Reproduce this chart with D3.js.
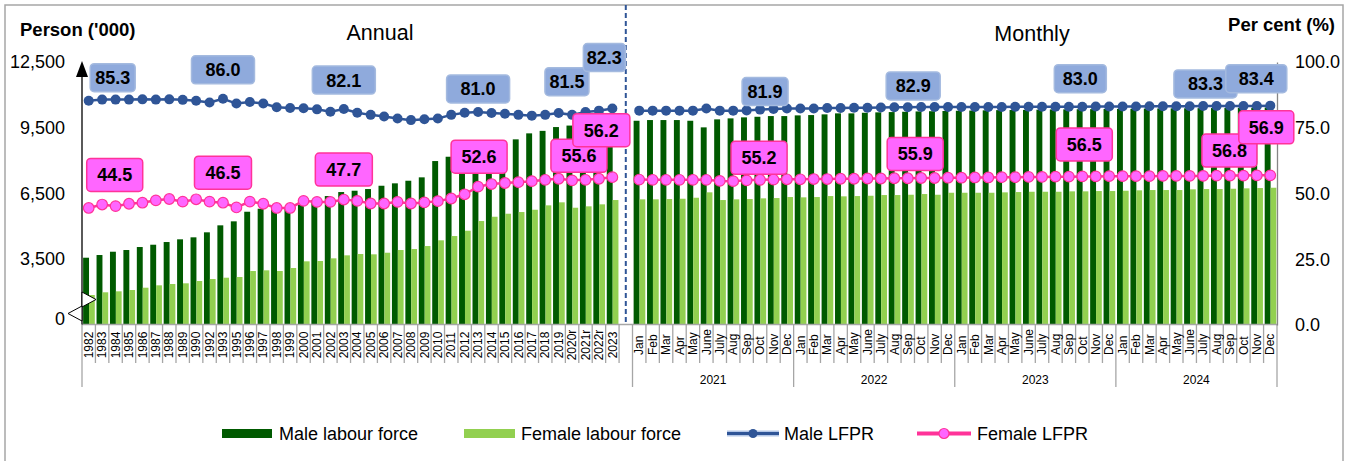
<!DOCTYPE html>
<html>
<head>
<meta charset="utf-8">
<style>
  body { margin: 0; background: #fff; }
  svg text { font-family: Arial, "Liberation Sans", sans-serif; }
</style>
</head>
<body>
<div id="chart"></div>
<script src="https://d3js.org/d3.v7.min.js"></script>
<script>
// ---- data: labour force in person ('000), LFPR in per cent ----
const annualYears = ["1982","1983","1984","1985","1986","1987","1988","1989","1990","1992",
  "1993","1995","1996","1997","1998","1999","2000","2001","2002","2003",
  "2004","2005","2006","2007","2008","2009","2010","2011","2012","2013",
  "2014","2015","2016","2017","2018","2019","2020r","2021r","2022r","2023"];
const annualMaleLF = [3553,3676,3827,3905,4042,4147,4270,4394,4485,4714,
  5033,5216,5655,5792,5790,5850,5961,6190,6372,6555,
  6615,6692,6843,6953,7072,7227,7972,8169,8338,8566,
  8703,8840,8964,9238,9352,9526,9594,9700,9850,10000];
const annualFemaleLF = [1848,1972,2017,2077,2182,2291,2351,2383,2488,2579,
  2639,2671,2945,2977,2945,3082,3388,3402,3525,3662,
  3722,3708,3781,3905,3950,4087,4348,4544,4787,5230,
  5426,5564,5641,5746,5947,6085,5838,5902,5993,6190];
const annualMaleLFPR = [85.3,85.7,85.7,85.7,85.8,85.7,85.8,85.6,85.3,84.6,
  86.0,84.2,84.8,84.2,82.8,82.5,82.4,82.0,81.1,82.1,
  80.7,79.9,79.3,78.5,77.9,78.2,78.5,79.9,80.7,81.0,
  80.6,80.3,79.9,79.6,79.9,80.6,79.9,81.0,81.5,82.3];
const annualFemaleLFPR = [44.5,45.8,45.2,46.1,46.5,47.4,47.9,46.9,47.8,46.9,
  46.5,44.7,46.9,46.1,44.5,44.5,47.2,46.8,46.8,47.7,
  47.2,46.2,46.2,46.8,46.2,46.6,47.1,48.1,49.7,52.6,
  53.6,54.0,54.3,54.7,55.2,55.6,55.0,55.2,55.6,56.2];

const months = ["Jan","Feb","Mar","Apr","May","June","July","Aug","Sep","Oct","Nov","Dec"];
const monthYears = ["2021","2022","2023","2024"];
const monthlyMaleLF = [9814,9846,9846,9846,9814,9512,9878,9923,9969,9996,10028,10028,
  10060,10074,10106,10152,10152,10179,10198,10211,10225,10240,10250,10260,
  10270,10280,10290,10300,10305,10310,10320,10330,10335,10340,10345,10350,
  10355,10360,10370,10375,10380,10385,10390,10395,10400,10405,10410,10420];
const monthlyFemaleLF = [6222,6222,6235,6249,6295,6542,6190,6222,6235,6267,6281,6327,
  6313,6327,6372,6359,6372,6386,6418,6418,6432,6464,6432,6523,
  6523,6523,6523,6541,6555,6569,6569,6569,6587,6587,6601,6601,
  6615,6633,6647,6647,6647,6679,6692,6692,6706,6724,6738,6752];
const monthlyMaleLFPR = [81.5,81.5,81.5,81.5,81.5,82.3,81.5,81.5,81.6,81.9,82.1,82.3,
  82.3,82.3,82.5,82.5,82.6,82.6,82.7,82.8,82.8,82.9,82.9,82.9,
  82.9,82.9,82.9,82.9,83.0,83.0,83.0,83.0,83.0,83.0,83.1,83.1,
  83.1,83.1,83.2,83.2,83.2,83.2,83.3,83.3,83.3,83.3,83.3,83.4];
const monthlyFemaleLFPR = [55.3,55.2,55.2,55.2,55.2,55.2,54.8,54.7,55.0,55.2,55.3,55.4,
  55.4,55.5,55.5,55.6,55.6,55.7,55.7,55.8,55.8,55.9,55.9,56.0,
  56.0,56.1,56.1,56.2,56.2,56.3,56.3,56.4,56.4,56.5,56.5,56.6,
  56.6,56.6,56.6,56.7,56.7,56.7,56.7,56.8,56.8,56.8,56.9,56.9];

// left axis is broken: the bottom tick (500) is shown as 0
const leftTicks = [500, 3500, 6500, 9500, 12500];
const leftTickLabels = ["0", "3,500", "6,500", "9,500", "12,500"];
const rightTicks = [0, 25, 50, 75, 100];

// which points carry a value box
const maleLabelKeys = ["1982","1993","2003","2013","2022r","2023","2021-Oct","2022-Oct","2023-Oct","2024-Oct","2024-Dec"];
const femaleLabelKeys = maleLabelKeys;

// ---- layout ----
const width = 1354, height = 461;
const plotL = 82, plotR = 1277, plotT = 62, base = 324.5;
const colMale = "#005a00", colFemale = "#92d050";
const colMaleLine = "#2f5597", colFemaleLine = "#ff3399", colFemaleDot = "#ff66ff";
const colMaleBox = "#8faadc";

const monthKeys = monthYears.flatMap(y => months.map(m => y + "-" + m));
const cats = annualYears.concat(["gap"], monthKeys);

const x = d3.scaleBand().domain(cats).range([plotL, plotR]);
const bw = x.bandwidth();
const cx = k => x(k) + bw / 2;
const yL = d3.scaleLinear().domain([500, 12500]).range([base, plotT]);
const yR = d3.scaleLinear().domain([0, 100]).range([325, plotT]);

const rows = annualYears.map((k, i) => ({key: k, male: annualMaleLF[i], female: annualFemaleLF[i]}))
  .concat(monthKeys.map((k, i) => ({key: k, male: monthlyMaleLF[i], female: monthlyFemaleLF[i]})));

const maleAnnual = annualYears.map((k, i) => ({key: k, v: annualMaleLFPR[i]}));
const maleMonthly = monthKeys.map((k, i) => ({key: k, v: monthlyMaleLFPR[i]}));
const femaleAnnual = annualYears.map((k, i) => ({key: k, v: annualFemaleLFPR[i]}));
const femaleMonthly = monthKeys.map((k, i) => ({key: k, v: monthlyFemaleLFPR[i]}));
const maleLookup = new Map(maleAnnual.concat(maleMonthly).map(d => [d.key, d.v]));
const femaleLookup = new Map(femaleAnnual.concat(femaleMonthly).map(d => [d.key, d.v]));

// box offsets from their point (dx, dy, box width)
const maleBoxPos = [[24,-23,45],[0,-29,63],[0,-29,63],[0,-23,63],[-32,-29,44],[-8,-51,42],
  [5,-18,46],[-8,-21,54],[-2,-28,52],[-38,-22,63],[-14,-27,61]];
const femaleBoxPos = [[26,-33,56],[0,-30,57],[0,-30,57],[1,-30,56],[-20,-23,56],[-11,-47,57],
  [-1,-22,56],[-6,-24,56],[2,-32,56],[-14,-25,55],[-4,-48,55]];

const svg = d3.select("#chart").append("svg")
  .attr("width", width)
  .attr("height", height);

svg.append("rect")
  .attr("x", 5).attr("y", 5).attr("width", 1338).attr("height", 470)
  .attr("fill", "#fff").attr("stroke", "#a6a6a6").attr("stroke-width", 1.5);

// titles
svg.append("text").attr("x", 20).attr("y", 36)
  .style("font-size", "18.5px").style("font-weight", "bold").text("Person ('000)");
svg.append("text").attr("x", 1335).attr("y", 31).attr("text-anchor", "end")
  .style("font-size", "18.5px").style("font-weight", "bold").text("Per cent (%)");
svg.append("text").attr("x", 380).attr("y", 40).attr("text-anchor", "middle")
  .style("font-size", "21.5px").text("Annual");
svg.append("text").attr("x", 1032).attr("y", 41).attr("text-anchor", "middle")
  .style("font-size", "21.5px").text("Monthly");

// bars
const barG = svg.append("g");
barG.selectAll(".male").data(rows).enter().append("rect")
  .attr("x", d => x(d.key) + bw * 0.083)
  .attr("width", bw * 0.44)
  .attr("y", d => yL(d.male))
  .attr("height", d => base - yL(d.male))
  .attr("fill", colMale);
barG.selectAll(".female").data(rows).enter().append("rect")
  .attr("x", d => x(d.key) + bw * 0.523)
  .attr("width", bw * 0.43)
  .attr("y", d => yL(d.female))
  .attr("height", d => base - yL(d.female))
  .attr("fill", colFemale);

// dashed divider between annual and monthly
svg.append("line")
  .attr("x1", cx("gap")).attr("x2", cx("gap"))
  .attr("y1", 5).attr("y2", base)
  .attr("stroke", colMaleLine).attr("stroke-width", 2).attr("stroke-dasharray", "5,3");

// category axis
svg.append("line").attr("x1", plotL).attr("x2", plotR).attr("y1", base).attr("y2", base)
  .attr("stroke", "#a6a6a6").attr("stroke-width", 1.3);

const longSeps = [plotL, plotR].concat(monthYears.map(y => x(y + "-Jan")));
const shortSeps = cats.map(k => x(k)).filter(v => !longSeps.some(l => Math.abs(l - v) < 0.5));
svg.append("g").selectAll("line").data(shortSeps).enter().append("line")
  .attr("x1", d => d).attr("x2", d => d).attr("y1", base).attr("y2", 363)
  .attr("stroke", "#a6a6a6").attr("stroke-width", 1.3);
svg.append("g").selectAll("line").data(longSeps).enter().append("line")
  .attr("x1", d => d).attr("x2", d => d).attr("y1", base).attr("y2", 387)
  .attr("stroke", "#a6a6a6").attr("stroke-width", 1.3);

svg.append("g").selectAll("text").data(annualYears).enter().append("text")
  .attr("transform", d => "translate(" + cx(d) + ",345) rotate(-90)")
  .attr("text-anchor", "middle").attr("dy", "0.35em")
  .style("font-size", "12px").text(d => d);
svg.append("g").selectAll("text").data(monthKeys).enter().append("text")
  .attr("transform", d => "translate(" + cx(d) + ",355) rotate(-90)")
  .attr("text-anchor", "start").attr("dy", "0.35em")
  .style("font-size", "12px").text(d => d.split("-")[1]);
svg.append("g").selectAll("text").data(monthYears).enter().append("text")
  .attr("x", d => (x(d + "-Jan") + x(d + "-Dec") + bw) / 2)
  .attr("y", 383.5).attr("text-anchor", "middle")
  .style("font-size", "12px").text(d => d);

// left axis
const leftAxis = svg.append("g").attr("transform", "translate(" + plotL + ",0)")
  .call(d3.axisLeft(yL).tickValues(leftTicks).tickSize(0).tickPadding(17)
    .tickFormat((d, i) => leftTickLabels[i]));
leftAxis.select(".domain").remove();
leftAxis.selectAll("text").style("font-size", "18px").style("font-family", "Arial, 'Liberation Sans', sans-serif")
  .attr("fill", "#000");
leftAxis.selectAll(".tick").filter(d => d === 500).select("text").attr("y", -6);
svg.append("line").attr("x1", plotL).attr("x2", plotL).attr("y1", 74).attr("y2", base)
  .attr("stroke", "#000").attr("stroke-width", 1.3);
svg.append("path").attr("d", "M82,61 L76,77 L88,77 Z").attr("fill", "#000");
// axis break marks
svg.append("path").attr("d", "M82,292 L96,299.5 L82,307 Z")
  .attr("fill", "#fff").attr("stroke", "#000").attr("stroke-width", 1);
svg.append("path").attr("d", "M82,306 L68,313.5 L82,321 Z")
  .attr("fill", "#fff").attr("stroke", "#000").attr("stroke-width", 1);

// right axis
const rightAxis = svg.append("g").attr("transform", "translate(" + plotR + ",0)")
  .call(d3.axisRight(yR).tickValues(rightTicks).tickSize(0).tickPadding(18)
    .tickFormat(d3.format(".1f")));
rightAxis.select(".domain").attr("stroke", "#868686").attr("stroke-width", 1.3);
rightAxis.selectAll("text").style("font-size", "18px").style("font-family", "Arial, 'Liberation Sans', sans-serif")
  .attr("fill", "#000");

// LFPR lines
const line = d3.line().x(d => cx(d.key)).y(d => yR(d.v));
[maleAnnual, maleMonthly].forEach(s => {
  svg.append("path").datum(s).attr("d", line)
    .attr("fill", "none").attr("stroke", colMaleLine).attr("stroke-width", 2.5);
});
[femaleAnnual, femaleMonthly].forEach(s => {
  svg.append("path").datum(s).attr("d", line)
    .attr("fill", "none").attr("stroke", colFemaleLine).attr("stroke-width", 2.5);
});
svg.append("g").selectAll("circle").data(maleAnnual.concat(maleMonthly)).enter().append("circle")
  .attr("cx", d => cx(d.key)).attr("cy", d => yR(d.v)).attr("r", 5)
  .attr("fill", colMaleLine);
svg.append("g").selectAll("circle").data(femaleAnnual.concat(femaleMonthly)).enter().append("circle")
  .attr("cx", d => cx(d.key)).attr("cy", d => yR(d.v)).attr("r", 5.3)
  .attr("fill", colFemaleDot).attr("stroke", colFemaleLine).attr("stroke-width", 1.2);

// value boxes
function drawBoxes(keys, pos, lookup, h, fill, stroke) {
  const g = svg.append("g");
  keys.forEach((k, i) => {
    const v = lookup.get(k);
    const bx = cx(k) + pos[i][0], by = yR(v) + pos[i][1], w = pos[i][2];
    g.append("rect").attr("x", bx - w / 2).attr("y", by - h / 2)
      .attr("width", w).attr("height", h).attr("rx", 4)
      .attr("fill", fill).attr("stroke", stroke).attr("stroke-width", 1.5);
    g.append("text").attr("x", bx).attr("y", by).attr("dy", "0.36em")
      .attr("text-anchor", "middle")
      .style("font-size", "18px").style("font-weight", "bold")
      .text(v.toFixed(1));
  });
}
drawBoxes(maleLabelKeys, maleBoxPos, maleLookup, 28, colMaleBox, "#a4badf");
drawBoxes(femaleLabelKeys, femaleBoxPos, femaleLookup, 33, colFemaleDot, colFemaleLine);

// legend
const lg = svg.append("g").style("font-size", "18px");
lg.append("rect").attr("x", 222).attr("y", 429).attr("width", 50).attr("height", 9).attr("fill", colMale);
lg.append("text").attr("x", 279).attr("y", 440).text("Male labour force");
lg.append("rect").attr("x", 464).attr("y", 429).attr("width", 51).attr("height", 9).attr("fill", colFemale);
lg.append("text").attr("x", 521).attr("y", 440).text("Female labour force");
lg.append("line").attr("x1", 727).attr("x2", 779).attr("y1", 433.5).attr("y2", 433.5)
  .attr("stroke", "#b4c7e7").attr("stroke-width", 6);
lg.append("line").attr("x1", 727).attr("x2", 779).attr("y1", 433.5).attr("y2", 433.5)
  .attr("stroke", colMaleLine).attr("stroke-width", 3);
lg.append("circle").attr("cx", 753).attr("cy", 433.5).attr("r", 4.5).attr("fill", colMaleLine);
lg.append("text").attr("x", 784).attr("y", 440).text("Male LFPR");
lg.append("line").attr("x1", 917).attr("x2", 971).attr("y1", 433.5).attr("y2", 433.5)
  .attr("stroke", colFemaleLine).attr("stroke-width", 4);
lg.append("circle").attr("cx", 944).attr("cy", 433.5).attr("r", 5)
  .attr("fill", colFemaleDot).attr("stroke", colFemaleLine).attr("stroke-width", 1.2);
lg.append("text").attr("x", 977).attr("y", 440).text("Female LFPR");
</script>
</body>
</html>
